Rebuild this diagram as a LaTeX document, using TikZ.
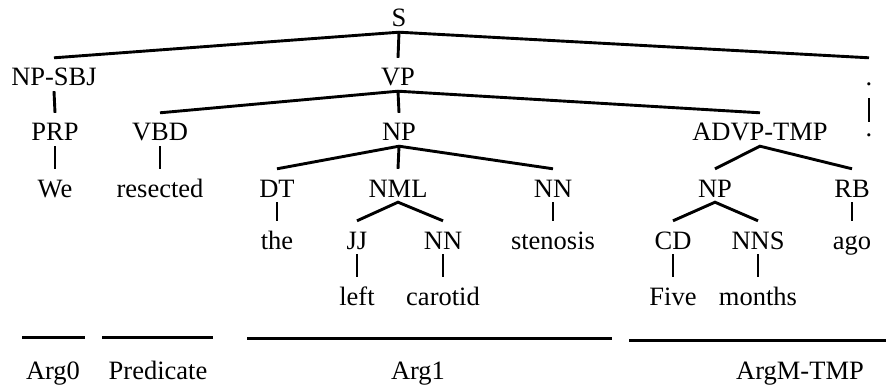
\documentclass[tikz,border=0pt]{standalone}
\usepackage{fontspec}
\setmainfont{Liberation Serif}
\begin{document}
\begin{tikzpicture}[x=1pt,y=-1pt,
  lbl/.style={anchor=base,inner sep=0pt,text height=28pt,text depth=5pt,
    font=\fontsize{26.5}{30}\selectfont},
  role/.style={anchor=base,inner sep=0pt,font=\fontsize{26.5}{30}\selectfont},
  edge/.style={line width=2.9pt,line cap=butt},
  bar/.style={line width=3pt}]
\useasboundingbox (0,0) rectangle (886,385);
% row 0
\node[lbl] (S) at (399,27) {S};
% row 1
\node[lbl] (npsbj) at (54,86) {NP-SBJ};
\node[lbl] (vp) at (398,86) {VP};
\node[lbl,text depth=12pt] (dotA) at (869,86) {.};
% row 2
\node[lbl] (prp) at (55,141) {PRP};
\node[lbl] (vbd) at (160,141) {VBD};
\node[lbl] (np) at (399,141) {NP};
\node[lbl] (advp) at (760,141) {ADVP-TMP};
\node[lbl,text height=15pt] (dotB) at (869,137) {.};
% row 3
\node[lbl] (we) at (55,197) {We};
\node[lbl] (resected) at (160,197) {resected};
\node[lbl] (dt) at (277,197) {DT};
\node[lbl] (nml) at (398,197) {NML};
\node[lbl] (nnA) at (553,197) {NN};
\node[lbl] (npB) at (715,197) {NP};
\node[lbl] (rb) at (852,197) {RB};
% row 4
\node[lbl] (the) at (277,249) {the};
\node[lbl] (jj) at (357,249) {JJ};
\node[lbl] (nnB) at (443,249) {NN};
\node[lbl] (stenosis) at (553,249) {stenosis};
\node[lbl] (cd) at (673,249) {CD};
\node[lbl] (nns) at (758,249) {NNS};
\node[lbl] (ago) at (852,249) {ago};
% row 5
\node[lbl] (left) at (357,305) {left};
\node[lbl] (carotid) at (443,305) {carotid};
\node[lbl] (five) at (673,305) {Five};
\node[lbl] (months) at (758,305) {months};
% tree edges
\draw[edge] (npsbj.north) -- (S.south) -- (dotA.north);
\draw[edge] (S.south) -- (vp.north);
\draw[edge] (npsbj.south) -- (prp.north);
\draw[edge] (prp.south) -- (we.north);
\draw[edge] (vbd.north) -- (vp.south) -- (advp.north);
\draw[edge] (vp.south) -- (np.north);
\draw[edge] (vbd.south) -- (resected.north);
\draw[edge] (dotA.south) -- (dotB.north);
\draw[edge] (dt.north) -- (np.south) -- (nnA.north);
\draw[edge] (np.south) -- (nml.north);
\draw[edge] (dt.south) -- (the.north);
\draw[edge] (jj.north) -- (nml.south) -- (nnB.north);
\draw[edge] (jj.south) -- (left.north);
\draw[edge] (nnB.south) -- (carotid.north);
\draw[edge] (nnA.south) -- (stenosis.north);
\draw[edge] (npB.north) -- (advp.south) -- (rb.north);
\draw[edge] (cd.north) -- (npB.south) -- (nns.north);
\draw[edge] (cd.south) -- (five.north);
\draw[edge] (nns.south) -- (months.north);
\draw[edge] (rb.south) -- (ago.north);
% argument spans
\coordinate (a0l) at (22,337);  \coordinate (a0r) at (85,337);
\coordinate (prl) at (102,337); \coordinate (prr) at (213,337);
\coordinate (a1l) at (247,338); \coordinate (a1r) at (612,338);
\coordinate (amL) at (629,340); \coordinate (amR) at (886,340);
\draw[bar] (a0l) -- (a0r);
\draw[bar] (prl) -- (prr);
\draw[bar] (a1l) -- (a1r);
\draw[bar] (amL) -- (amR);
\node[role] (arg0) at (53,379) {Arg0};
\node[role] (pred) at (158,379) {Predicate};
\node[role] (arg1) at (418,379) {Arg1};
\node[role] (argm) at (800,379) {ArgM-TMP};
\end{tikzpicture}
\end{document}
